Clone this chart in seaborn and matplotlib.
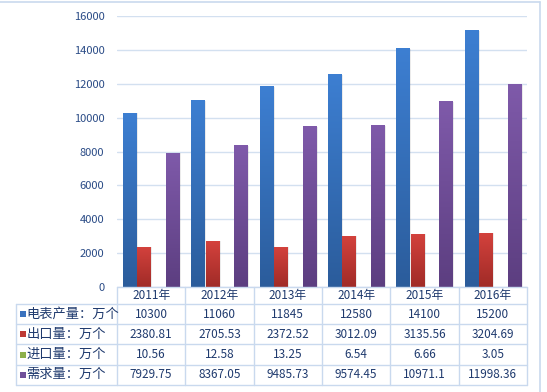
import numpy as np
import pandas as pd
import matplotlib
matplotlib.use("Agg")
import matplotlib.pyplot as plt
import seaborn as sns
from matplotlib.colors import LinearSegmentedColormap

# ---------------- data ----------------
years = ["2011年", "2012年", "2013年", "2014年", "2015年", "2016年"]
series_names = ["电表产量：万个", "出口量：万个", "进口量：万个", "需求量：万个"]
production = [10300, 11060, 11845, 12580, 14100, 15200]
exports = [2380.81, 2705.53, 2372.52, 3012.09, 3135.56, 3204.69]
imports = [10.56, 12.58, 13.25, 6.54, 6.66, 3.05]
demand = [7929.75, 8367.05, 9485.73, 9574.45, 10971.1, 11998.36]
y_ticks = [0, 2000, 4000, 6000, 8000, 10000, 12000, 14000, 16000]

all_series = [production, exports, imports, demand]

# colours (top, bottom) gradient per series
grad_colors = [("#3D7FD2", "#2B5C9B"), ("#D4423D", "#A02B27"),
               ("#9BBB59", "#7A9A3C"), ("#7F5AAA", "#5C3E80")]
legend_colors = ["#3A72BE", "#BE3A35", "#8DB04B", "#70509A"]

sns.set_theme(style="white")
plt.rcParams['font.family'] = ['Noto Sans CJK SC', 'DejaVu Sans']

W, H = 547, 392
fig = plt.figure(figsize=(W / 100, H / 100), dpi=100)
fig.patch.set_facecolor("white")

# axes geometry in pixels
ax_l, ax_r, ax_t, ax_b = 117, 527, 16, 287
ax = fig.add_axes([ax_l / W, 1 - ax_b / H, (ax_r - ax_l) / W, (ax_b - ax_t) / H])

df = pd.DataFrame({
    "year": np.repeat(years, len(series_names)),
    "series": series_names * len(years),
    "value": [all_series[s][i] for i in range(len(years)) for s in range(len(series_names))],
})

sns.barplot(data=df, x="year", y="value", hue="series", order=years,
            hue_order=series_names, palette=legend_colors, width=0.84,
            gap=0.07, legend=False, ax=ax, errorbar=None, zorder=3)

ax.set_xlim(-0.5, len(years) - 0.5)
ax.set_ylim(0, 16000)
ax.set_yticks(y_ticks)
ax.set_yticklabels([str(t) for t in y_ticks])
ax.tick_params(axis="y", length=0, pad=9, labelsize=8, labelcolor="#2A4B86")
ax.set_xticks([])
ax.set_xlabel("")
ax.set_ylabel("")
for sp in ax.spines.values():
    sp.set_visible(False)
ax.grid(axis="y", color="#D3E0F0", linewidth=1.0, zorder=0)
ax.set_axisbelow(True)
ax.set_facecolor("none")

# gradient fill of bars
for s, cont in enumerate(ax.containers):
    top, bot = grad_colors[s]
    cmap = LinearSegmentedColormap.from_list("g%d" % s, [bot, top])
    for patch in cont.patches:
        x0 = patch.get_x()
        w = patch.get_width()
        h = patch.get_height()
        if h <= 0:
            continue
        patch.set_facecolor("none")
        patch.set_edgecolor("none")
        grad = np.linspace(0, 1, 256).reshape(-1, 1)
        im = ax.imshow(grad, extent=[x0, x0 + w, 0, h], origin="lower",
                       cmap=cmap, aspect="auto", zorder=3, interpolation="bilinear")
        im.set_clip_path(patch)
        # faint shadow to the right
        ax.add_patch(plt.Rectangle((x0 + w, 0), w * 0.12, h * 0.995,
                                   facecolor="#000000", alpha=0.08,
                                   edgecolor="none", zorder=2))
ax.set_xlim(-0.5, len(years) - 0.5)
ax.set_ylim(0, 16000)

# ---------------- data table (overlay in pixel coords) ----------------
ov = fig.add_axes([0, 0, 1, 1])
ov.set_xlim(0, W)
ov.set_ylim(H, 0)
ov.axis("off")

line_c = "#C9D9EE"
text_c = "#1F3A6E"
col_w = (ax_r - ax_l) / len(years)
tab_left = 15.5
row_edges = [287, 304, 324.2, 344.4, 364.6, 384.8]

def fmt(v):
    s = "%.2f" % v
    return s.rstrip("0").rstrip(".")

# horizontal lines
ov.plot([ax_l, ax_r], [row_edges[0]] * 2, color=line_c, lw=1.0)
for y in row_edges[1:]:
    ov.plot([tab_left, ax_r], [y, y], color=line_c, lw=1.0)
# vertical lines
for k in range(len(years) + 1):
    x = ax_l + k * col_w
    ov.plot([x, x], [row_edges[0], row_edges[-1]], color=line_c, lw=1.0)
ov.plot([tab_left, tab_left], [row_edges[1], row_edges[-1]], color=line_c, lw=1.0)

# header
for i, yr in enumerate(years):
    cx = ax_l + (i + 0.5) * col_w
    ov.text(cx, (row_edges[0] + row_edges[1]) / 2, yr, ha="center", va="center",
            fontsize=8.5, color=text_c)

# rows
for s, name in enumerate(series_names):
    cy = (row_edges[s + 1] + row_edges[s + 2]) / 2
    ov.add_patch(plt.Rectangle((19.5, cy - 3), 6, 6, facecolor=legend_colors[s],
                               edgecolor="none"))
    ov.text(26.5, cy, name, ha="left", va="center", fontsize=9.5, color=text_c)
    for i in range(len(years)):
        cx = ax_l + (i + 0.5) * col_w
        ov.text(cx, cy, fmt(all_series[s][i]), ha="center", va="center",
                fontsize=8.5, color=text_c)

# outer chart frame
ov.plot([0, 540], [2, 2], color="#C9D9EE", lw=1.2)
ov.plot([540, 540], [2, H], color="#C9D9EE", lw=1.2)

fig.savefig("out.png", dpi=100, facecolor="white")
